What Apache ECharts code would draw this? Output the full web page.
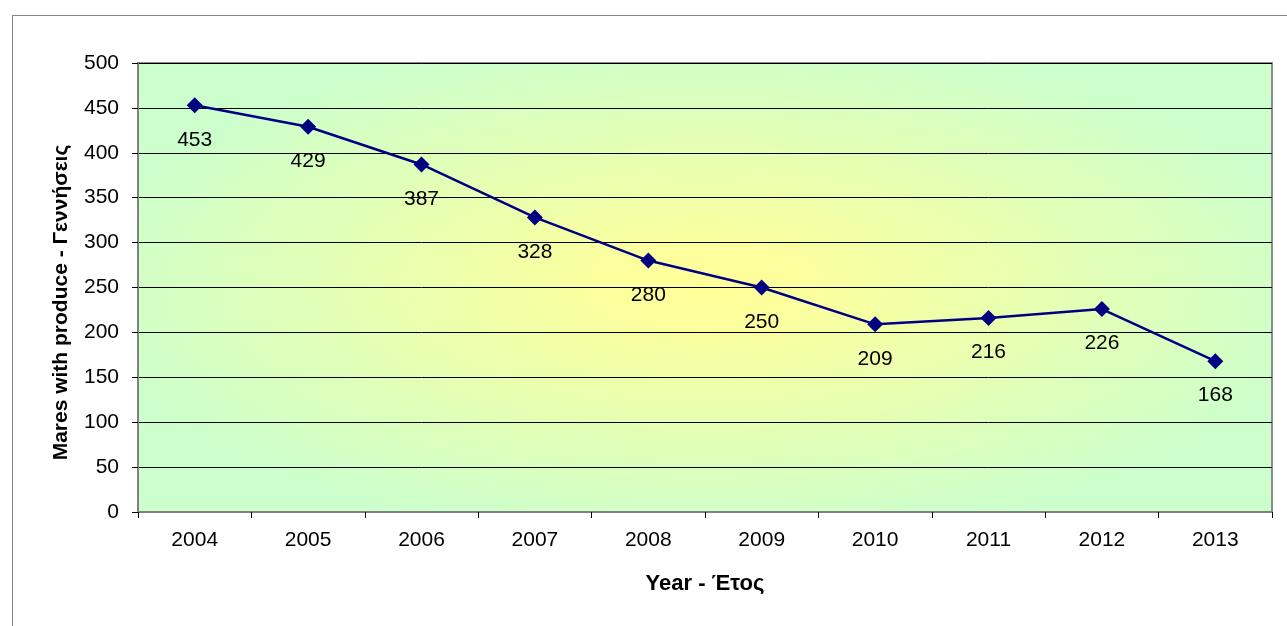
<!DOCTYPE html>
<html>
<head>
<meta charset="utf-8">
<script src="https://cdn.jsdelivr.net/npm/echarts@6/dist/echarts.min.js"></script>
<style>
html,body{margin:0;padding:0;background:#fff;}
#frame{position:absolute;left:12px;top:15px;width:1300px;height:700px;border:1px solid #868686;box-sizing:border-box;}
#main{position:absolute;left:0;top:0;width:1287px;height:626px;}
</style>
</head>
<body>
<div id="frame"></div>
<div id="main"></div>
<script>
var years = ['2004','2005','2006','2007','2008','2009','2010','2011','2012','2013'];
var mares = [453, 429, 387, 328, 280, 250, 209, 216, 226, 168];
var yTicks = [0, 50, 100, 150, 200, 250, 300, 350, 400, 450, 500];

var chart = echarts.init(document.getElementById('main'));
var G = {left:138, top:63, right:15, bottom:114};
var gw = 1287 - G.left - G.right, gh = 626 - G.top - G.bottom;
chart.setOption({
  animation:false,
  textStyle:{fontFamily:'Arial, "Liberation Sans", sans-serif'},
  graphic:[{
    type:'rect', z:-10, silent:true,
    x:G.left, y:G.top, scaleX: gw/gh, scaleY:1,
    shape:{x:0,y:0,width:gh,height:gh},
    style:{fill:{type:'radial',x:0.5,y:0.5,r:0.56,colorStops:[
      {offset:0,color:'#ffff99'},{offset:0.15,color:'#fcff9d'},{offset:1,color:'#ccffcc'}]}}
  }],
  grid:{left:G.left, top:G.top, right:G.right, bottom:G.bottom, show:true, borderColor:'#8c8c8c', borderWidth:2, backgroundColor:'transparent'},
  xAxis:{
    type:'category', data:years, boundaryGap:true,
    name:'Year - Έτος', nameLocation:'middle', nameGap:61,
    nameTextStyle:{fontSize:22, fontWeight:'bold', color:'#000'},
    axisLine:{lineStyle:{color:'#808080', width:2}},
    axisTick:{show:true, length:6, lineStyle:{color:'#000'}},
    axisLabel:{color:'#000', fontSize:21, margin:18}
  },
  yAxis:{
    type:'value', min:yTicks[0], max:yTicks[yTicks.length-1], interval:50,
    name:'Mares with produce - Γεννήσεις', nameLocation:'middle', nameGap:66,
    nameTextStyle:{fontSize:21, fontWeight:'bold', color:'#000', padding:[0,30,0,0]},
    axisLine:{show:true, lineStyle:{color:'#808080', width:2}},
    axisTick:{show:true, length:6, lineStyle:{color:'#000'}},
    axisLabel:{color:'#000', fontSize:21, margin:19},
    splitLine:{show:true, lineStyle:{color:'#000', width:1}}
  },
  series:[{
    type:'line', data:mares,
    symbol:'diamond', symbolSize:16,
    lineStyle:{color:'#000080', width:2.5},
    itemStyle:{color:'#000080'},
    label:{show:true, position:'bottom', distance:16, color:'#000', fontSize:21}
  }]
});
</script>
</body>
</html>
